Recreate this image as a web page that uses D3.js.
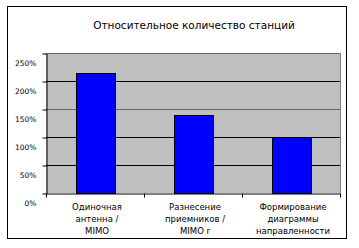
<!DOCTYPE html>
<html>
<head>
<meta charset="utf-8">
<script src="https://cdn.jsdelivr.net/npm/d3@7"></script>
<style>
  body { margin: 0; background: #fff; }
  svg { display: block; font-family: "DejaVu Sans", Verdana, sans-serif; }
</style>
</head>
<body>
<svg width="359" height="248"></svg>
<script>
var title = 'Относительное количество станций';
var categories = ['Одиночная\nантенна /\nMIMO', 'Разнесение\nприемников /\nMIMO r', 'Формирование\nдиаграммы\nнаправленности'];
var values = [214, 139, 100];
var yTicks = [0, 50, 100, 150, 200, 250];

var svg = d3.select('svg');

// chart frame
svg.append('rect').attr('x', 7.5).attr('y', 6.5).attr('width', 339).attr('height', 232)
    .attr('fill', '#fff').attr('stroke', '#000');

svg.append('text').attr('x', 194).attr('y', 29).attr('text-anchor', 'middle')
    .attr('font-size', 10.5).attr('fill', '#000').text(title);

var pLeft = 46, pRight = 340, pTop = 53, pBottom = 193;

var x = d3.scaleBand().domain(categories).range([pLeft, pRight]).paddingInner(0).paddingOuter(0);
var y = d3.scaleLinear().domain([0, 250]).range([pBottom, pTop]);

// plot area
svg.append('rect').attr('x', pLeft).attr('y', pTop).attr('width', pRight - pLeft).attr('height', pBottom - pTop)
    .attr('fill', '#c0c0c0');

// gridlines
svg.selectAll('.grid').data(yTicks.slice(1)).enter().append('line')
    .attr('x1', pLeft).attr('x2', pRight)
    .attr('y1', function (d) { return Math.round(y(d)) + 0.5; })
    .attr('y2', function (d) { return Math.round(y(d)) + 0.5; })
    .attr('stroke', function (d) { return d == 150 || d == 250 ? '#666' : '#000'; });

// plot border right
svg.append('line').attr('x1', pRight + 0.5).attr('x2', pRight + 0.5).attr('y1', pTop).attr('y2', pBottom)
    .attr('stroke', '#808080');

// bars
var bw = 39;
svg.selectAll('.bar').data(values).enter().append('rect')
    .attr('x', function (d, i) { return Math.round(x(categories[i]) + x.bandwidth() / 2 - bw / 2) + 0.5; })
    .attr('y', function (d) { return Math.round(y(d)) + 0.5; })
    .attr('width', bw)
    .attr('height', function (d) { return Math.round(y(0)) - Math.round(y(d)); })
    .attr('fill', '#0000ff').attr('stroke', '#000');

// y axis
var yAxis = d3.axisLeft(y).tickValues(yTicks).tickSize(4).tickSizeOuter(0)
    .tickFormat(function (d) { return d + '%'; });
var gy = svg.append('g').attr('transform', 'translate(' + (pLeft + 0.5) + ',0.5)').call(yAxis);
gy.select('.domain').attr('stroke', '#000');
gy.selectAll('.tick text').attr('font-size', 7.5).attr('font-family', '"DejaVu Sans", Verdana, sans-serif')
    .attr('dy', '1.55em').attr('x', -10).attr('fill', '#000');

// x axis
var xAxis = d3.axisBottom(x).tickSize(0).tickFormat('');
var gx = svg.append('g').attr('transform', 'translate(0,' + (pBottom + 0.5) + ')').call(xAxis);
gx.select('.domain').attr('stroke', '#000');
gx.selectAll('.sep').data(d3.range(categories.length + 1)).enter().append('line')
    .attr('x1', function (i) { return Math.round(pLeft + i * x.bandwidth()) + 0.5; })
    .attr('x2', function (i) { return Math.round(pLeft + i * x.bandwidth()) + 0.5; })
    .attr('y1', 0).attr('y2', 4).attr('stroke', '#000');

// category labels
categories.forEach(function (c, i) {
    var t = svg.append('text').attr('text-anchor', 'middle').attr('font-size', 8.5).attr('fill', '#000');
    c.split('\n').forEach(function (line, j) {
        t.append('tspan').attr('x', x(c) + x.bandwidth() / 2 + 2).attr('y', 210 + j * 12).text(line);
    });
});
</script>
</body>
</html>
